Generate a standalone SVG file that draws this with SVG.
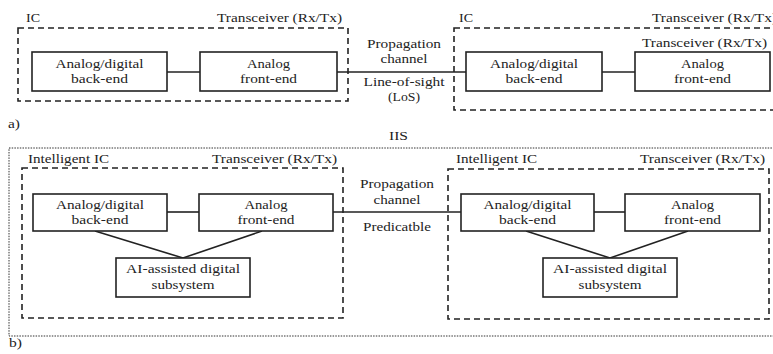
<svg xmlns="http://www.w3.org/2000/svg" width="773" height="354" viewBox="0 0 773 354" font-family="'Liberation Serif', 'DejaVu Serif', serif">
<style>
text{font-family:'Liberation Serif','DejaVu Serif',serif;font-size:13px;fill:#222;}
.m{text-anchor:middle;}
.box{fill:#fff;stroke:#222;stroke-width:1.6;}
.dash{fill:none;stroke:#222;stroke-width:1.6;stroke-dasharray:6,4;}
.dot{fill:none;stroke:#333;stroke-width:1;stroke-dasharray:1.5,1.2;}
.ln{stroke:#222;stroke-width:1.6;fill:none;}
</style>
<rect width="773" height="354" fill="#fff"/>
<g id="ic-left-a">
<rect class="dash" x="18" y="28" width="330" height="73"/>
<text x="26" y="22" textLength="14" lengthAdjust="spacingAndGlyphs">IC</text>
<text x="217" y="22" textLength="125" lengthAdjust="spacingAndGlyphs">Transceiver (Rx/Tx)</text>
</g>
<g id="ic-right-a">
<rect class="dash" x="454" y="28" width="330" height="82"/>
<text x="459" y="22" textLength="14" lengthAdjust="spacingAndGlyphs">IC</text>
<text x="652" y="22" textLength="125" lengthAdjust="spacingAndGlyphs">Transceiver (Rx/Tx)</text>
<text x="642" y="47" textLength="125" lengthAdjust="spacingAndGlyphs">Transceiver (Rx/Tx)</text>
</g>
<g id="connectors">
<line class="ln" x1="167" y1="72" x2="200" y2="72"/>
<line class="ln" x1="337" y1="72" x2="466" y2="72"/>
<line class="ln" x1="602" y1="72" x2="635" y2="72"/>
<line class="ln" x1="167" y1="212" x2="199" y2="212"/>
<line class="ln" x1="333" y1="212" x2="461" y2="212"/>
<line class="ln" x1="594" y1="212" x2="625" y2="212"/>
<polyline class="ln" points="95,231 183,258 262,231"/>
<polyline class="ln" points="526,231 610,258 688,231"/>
</g>
<g id="channel-a">
<text class="m" x="404" y="48" textLength="74" lengthAdjust="spacingAndGlyphs">Propagation</text>
<text class="m" x="404" y="63" textLength="47" lengthAdjust="spacingAndGlyphs">channel</text>
<text class="m" x="404" y="86" textLength="81" lengthAdjust="spacingAndGlyphs">Line-of-sight</text>
<text class="m" x="404" y="101" textLength="32" lengthAdjust="spacingAndGlyphs">(LoS)</text>
</g>
<g id="be-a1">
<rect class="box" x="32" y="52" width="135" height="39"/>
<text class="m" x="99.5" y="68" textLength="88" lengthAdjust="spacingAndGlyphs">Analog/digital</text>
<text class="m" x="99.5" y="83" textLength="57" lengthAdjust="spacingAndGlyphs">back-end</text>
</g>
<g id="fe-a1">
<rect class="box" x="200" y="52" width="137" height="39"/>
<text class="m" x="268.5" y="68" textLength="43" lengthAdjust="spacingAndGlyphs">Analog</text>
<text class="m" x="268.5" y="83" textLength="57" lengthAdjust="spacingAndGlyphs">front-end</text>
</g>
<g id="be-a2">
<rect class="box" x="466" y="52" width="136" height="39"/>
<text class="m" x="534" y="68" textLength="88" lengthAdjust="spacingAndGlyphs">Analog/digital</text>
<text class="m" x="534" y="83" textLength="57" lengthAdjust="spacingAndGlyphs">back-end</text>
</g>
<g id="fe-a2">
<rect class="box" x="635" y="52" width="135" height="39"/>
<text class="m" x="702.5" y="68" textLength="43" lengthAdjust="spacingAndGlyphs">Analog</text>
<text class="m" x="702.5" y="83" textLength="57" lengthAdjust="spacingAndGlyphs">front-end</text>
</g>
<text x="8" y="128" textLength="12" lengthAdjust="spacingAndGlyphs">a)</text>
<g id="iis">
<rect class="dot" x="9" y="148" width="780" height="188"/>
<text x="389" y="140" textLength="19" lengthAdjust="spacingAndGlyphs">IIS</text>
</g>
<g id="ic-left-b">
<rect class="dash" x="22" y="168" width="321" height="150"/>
<text x="28" y="163" textLength="81" lengthAdjust="spacingAndGlyphs">Intelligent IC</text>
<text x="212" y="163" textLength="125" lengthAdjust="spacingAndGlyphs">Transceiver (Rx/Tx)</text>
</g>
<g id="ic-right-b">
<rect class="dash" x="448" y="169" width="321" height="150"/>
<text x="456" y="163" textLength="81" lengthAdjust="spacingAndGlyphs">Intelligent IC</text>
<text x="640" y="163" textLength="125" lengthAdjust="spacingAndGlyphs">Transceiver (Rx/Tx)</text>
</g>
<g id="channel-b">
<text class="m" x="397" y="188" textLength="74" lengthAdjust="spacingAndGlyphs">Propagation</text>
<text class="m" x="397" y="204" textLength="47" lengthAdjust="spacingAndGlyphs">channel</text>
<text class="m" x="397" y="231" textLength="68" lengthAdjust="spacingAndGlyphs">Predicatble</text>
</g>
<g id="be-b1">
<rect class="box" x="33" y="194" width="134" height="37"/>
<text class="m" x="100" y="209" textLength="88" lengthAdjust="spacingAndGlyphs">Analog/digital</text>
<text class="m" x="100" y="224" textLength="57" lengthAdjust="spacingAndGlyphs">back-end</text>
</g>
<g id="fe-b1">
<rect class="box" x="199" y="194" width="134" height="37"/>
<text class="m" x="266" y="209" textLength="43" lengthAdjust="spacingAndGlyphs">Analog</text>
<text class="m" x="266" y="224" textLength="57" lengthAdjust="spacingAndGlyphs">front-end</text>
</g>
<g id="ai-b1">
<rect class="box" x="116" y="258" width="134" height="39"/>
<text class="m" x="183" y="273" textLength="114" lengthAdjust="spacingAndGlyphs">AI-assisted digital</text>
<text class="m" x="183" y="289" textLength="63" lengthAdjust="spacingAndGlyphs">subsystem</text>
</g>
<g id="be-b2">
<rect class="box" x="461" y="194" width="133" height="37"/>
<text class="m" x="527.5" y="209" textLength="88" lengthAdjust="spacingAndGlyphs">Analog/digital</text>
<text class="m" x="527.5" y="224" textLength="57" lengthAdjust="spacingAndGlyphs">back-end</text>
</g>
<g id="fe-b2">
<rect class="box" x="625" y="194" width="135" height="37"/>
<text class="m" x="692.5" y="209" textLength="43" lengthAdjust="spacingAndGlyphs">Analog</text>
<text class="m" x="692.5" y="224" textLength="57" lengthAdjust="spacingAndGlyphs">front-end</text>
</g>
<g id="ai-b2">
<rect class="box" x="543" y="258" width="134" height="39"/>
<text class="m" x="610" y="273" textLength="114" lengthAdjust="spacingAndGlyphs">AI-assisted digital</text>
<text class="m" x="610" y="289" textLength="63" lengthAdjust="spacingAndGlyphs">subsystem</text>
</g>
<text x="9" y="347" textLength="13" lengthAdjust="spacingAndGlyphs">b)</text>
</svg>
